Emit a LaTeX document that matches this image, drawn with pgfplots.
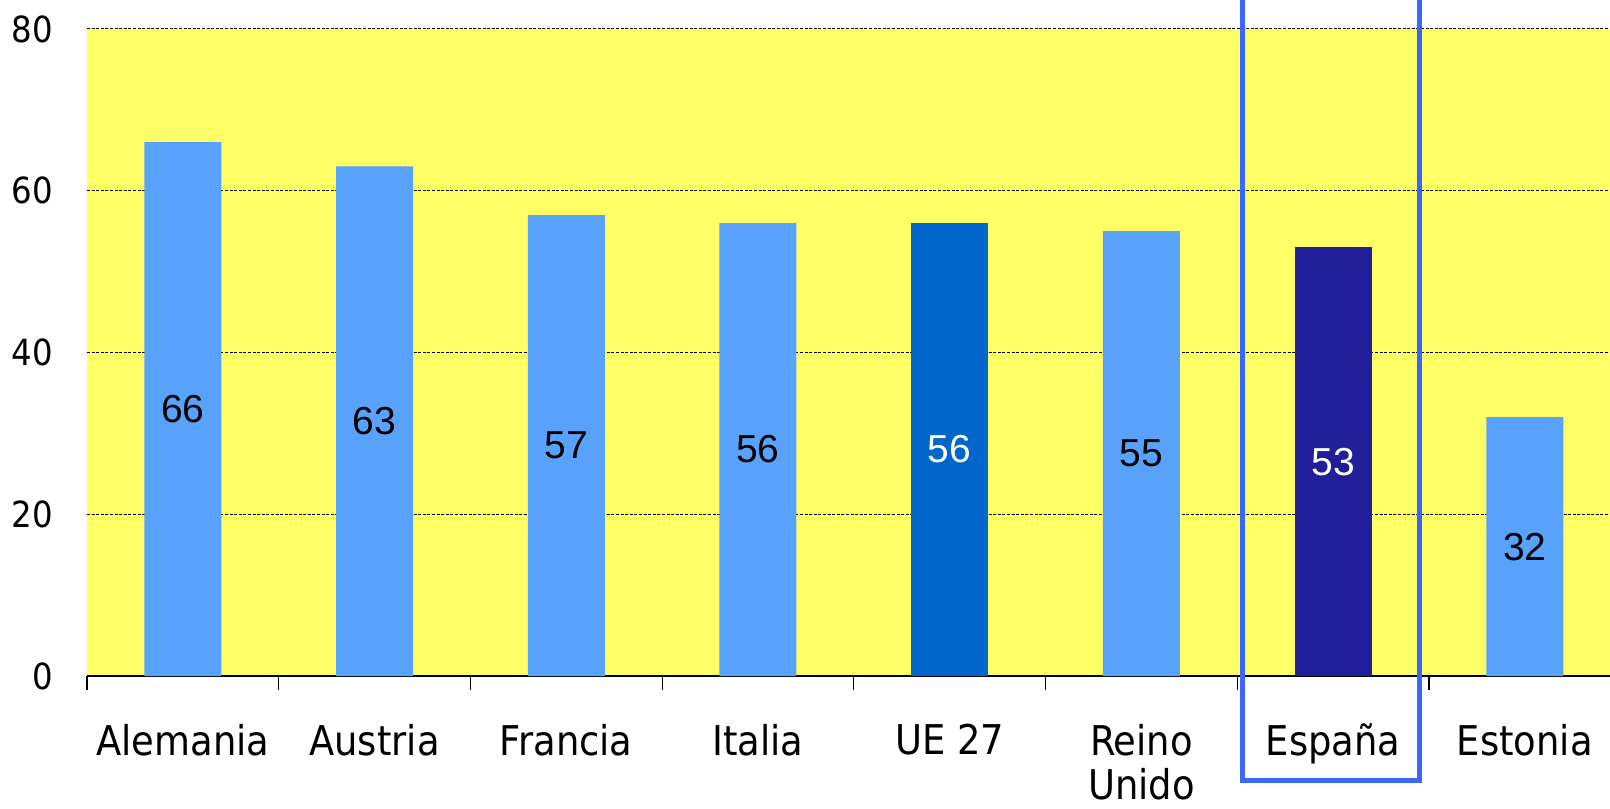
\documentclass[border=0pt]{standalone}
\usepackage{pgfplots}
\pgfplotsset{compat=1.18}
\usepackage{fontspec}
\setmainfont{DejaVu Sans Condensed}
\newfontfamily\arialf{Liberation Sans}
\definecolor{bgyellow}{RGB}{255,255,102}
\definecolor{barlight}{RGB}{88,162,252}
\definecolor{barue}{RGB}{0,102,204}
\definecolor{bares}{RGB}{32,31,153}
\definecolor{boxblue}{RGB}{59,102,255}
\begin{document}
\begin{tikzpicture}
\begin{axis}[
  scale only axis, width=766.8pt, height=323.5pt,
  xmin=-0.5, xmax=7.5, ymin=0, ymax=80,
  clip=false,
  axis background/.style={fill=bgyellow},
  axis x line*=bottom, axis y line*=left,
  x axis line style={-, black, line width=0.8pt},
  y axis line style={draw=none},
  xtick={0,...,7},
  xticklabels={Alemania,Austria,Francia,Italia,UE 27,Reino\\Unido,España,Estonia},
  major x tick style={draw=none},
  minor xtick={-0.5,0.5,1.5,2.5,3.5,4.5,5.5,6.5,7.5},
  minor x tick style={black, line width=0.6pt},
  minor tick length=7pt,
  tick align=outside,
  xtick pos=bottom,
  ytick={0,20,40,60,80},
  major y tick style={draw=none},
  ymajorgrids,
  grid style={black, dash pattern=on 1.5pt off 0.8pt, line width=0.5pt},
  yticklabel style={font=\fontsize{18}{19}\selectfont, inner sep=0pt, xshift=-12.5pt},
  xticklabel style={font=\fontsize{20.5}{22}\selectfont, align=center, anchor=north, inner sep=0pt, yshift=-19.5pt},
  /pgf/number format/assume math mode=true,
]
\coordinate (O) at (rel axis cs:0,0);
\addplot[ybar, bar width=38.5pt, bar shift=0pt, fill=barlight, draw=none]
  coordinates {(0,66) (1,63) (2,57) (3,56) (5,55) (7,32)};
\addplot[ybar, bar width=38.5pt, bar shift=0pt, fill=barue, draw=none]
  coordinates {(4,56)};
\addplot[ybar, bar width=38.5pt, bar shift=0pt, fill=bares, draw=none]
  coordinates {(6,53)};
\addplot[draw=none, mark=none, nodes near coords, point meta=explicit symbolic,
  nodes near coords style={anchor=center, font=\arialf\fontsize{19.5}{20}\selectfont, text=black}]
  coordinates {(0,33)[66] (1,31.5)[63] (2,28.5)[57] (3,28)[56] (5,27.5)[55] (7,16)[32]};
\addplot[draw=none, mark=none, nodes near coords, point meta=explicit symbolic,
  nodes near coords style={anchor=center, font=\arialf\fontsize{19.5}{20}\selectfont, text=white}]
  coordinates {(4,28)[56] (6,26.5)[53]};
\draw[boxblue, line width=2.5pt] (axis cs:5.53,83.59) -- (axis cs:5.53,-12.86) -- (axis cs:6.45,-12.86) -- (axis cs:6.45,83.59);
\end{axis}
\pgfresetboundingbox
\path (O) ++(-43.5pt,-66pt) rectangle ++(805pt,404pt);
\end{tikzpicture}
\end{document}
